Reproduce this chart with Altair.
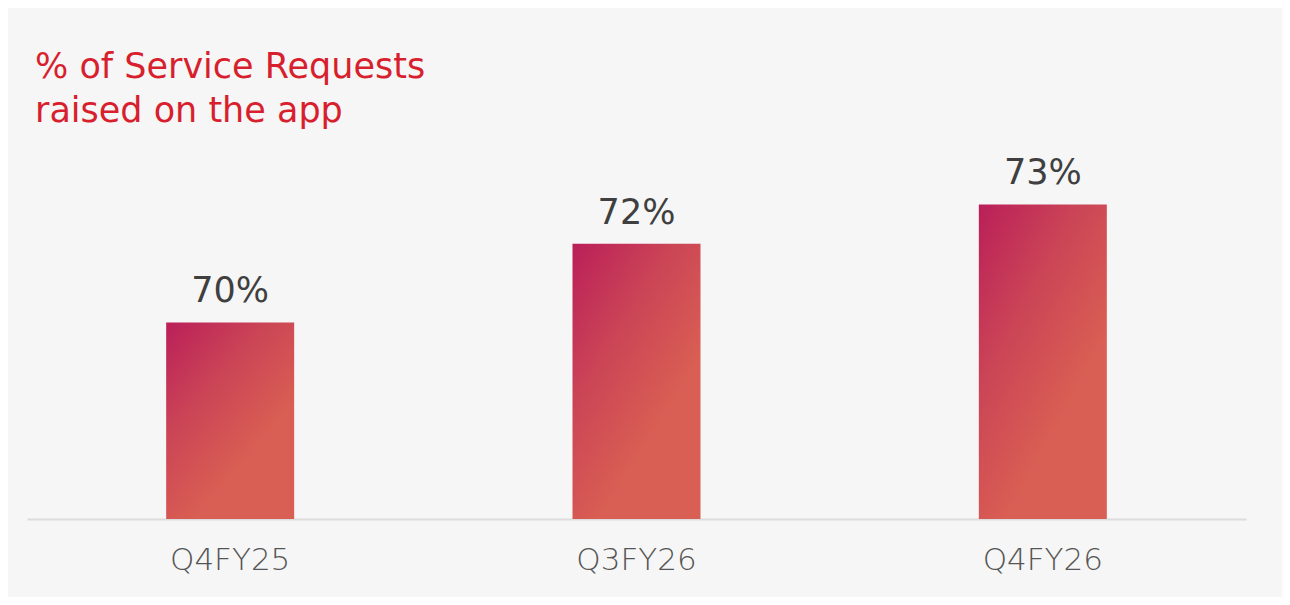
import altair as alt
import pandas as pd

quarters = ["Q4FY25", "Q3FY26", "Q4FY26"]
values = [70, 72, 73]
labels = ["70%", "72%", "73%"]
baseline_value = 65

df = pd.DataFrame({"quarter": quarters, "value": values, "label": labels})

FONT = "DejaVu Sans"

grad = alt.Gradient(
    gradient="linear",
    stops=[
        alt.GradientStop(color="#BA1F59", offset=0),
        alt.GradientStop(color="#CB4556", offset=0.38),
        alt.GradientStop(color="#D95E53", offset=0.74),
        alt.GradientStop(color="#D95E53", offset=1),
    ],
    x1=0, y1=0, x2=0.75, y2=1,
)

x = alt.X(
    "quarter:N",
    sort=quarters,
    scale=alt.Scale(paddingInner=0.685, paddingOuter=0.3425),
    axis=alt.Axis(
        title=None, labelAngle=0, ticks=False, grid=False,
        domainColor="#DCDCDC", domainWidth=2,
        labelFont=FONT, labelFontSize=31, labelFontWeight=300,
        labelColor="#555555", labelPadding=26,
    ),
)
y = alt.Y("value:Q", scale=alt.Scale(domain=[65, 74.41], nice=False, zero=False), axis=None)

bars = alt.Chart(df).mark_bar(color=grad).encode(x=x, y=y, y2=alt.datum(baseline_value))
text = alt.Chart(df).mark_text(
    font=FONT, fontSize=35, color="#3F3F3F", baseline="alphabetic", dy=-20
).encode(x=x, y=y, text="label:N")

chart = (bars + text).properties(
    width=1219,
    height=370,
    background="#F6F6F6",
    padding={"left": 19, "top": 141, "right": 36, "bottom": 78},
    autosize=alt.AutoSizeParams(type="none"),
    title=alt.TitleParams(
        text=["% of Service Requests", "raised on the app"],
        anchor="start", frame="group", dx=8,
        font=FONT, fontSize=35, fontWeight="normal", color="#D81F2E",
        lineHeight=44, offset=20,
    ),
).configure_view(stroke=None)

chart.save("out.html", embed_options={"renderer": "svg", "actions": False})
